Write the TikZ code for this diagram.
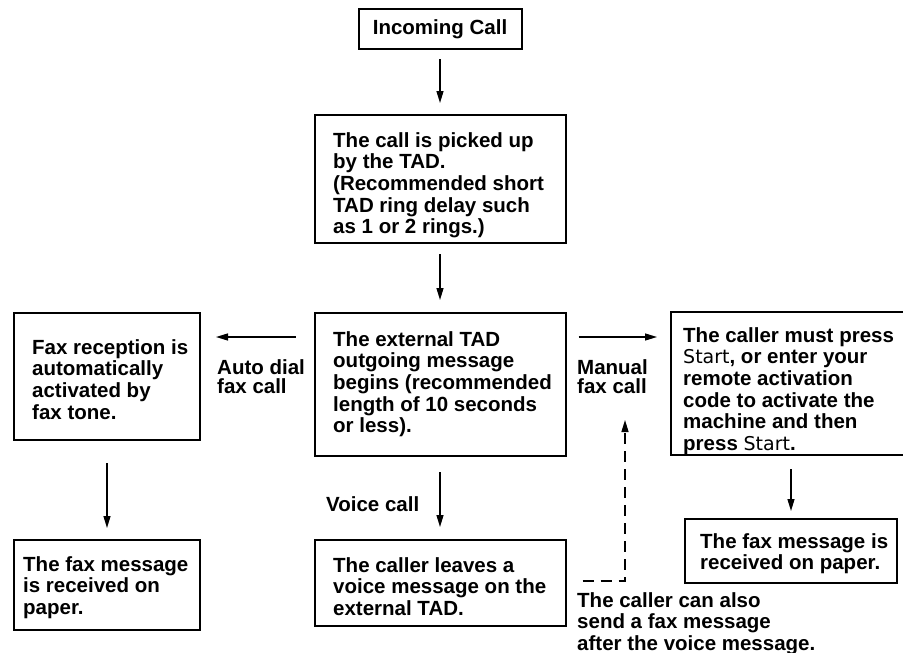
\documentclass[tikz,border=0pt]{standalone}
\usepackage{fontspec}
\setmainfont{Liberation Sans}
\newfontfamily\startfont{DejaVu Sans}
\usetikzlibrary{arrows.meta}
\newcommand{\Strt}{{\startfont\mdseries\fontsize{19}{21.7}\selectfont Start}}
\begin{document}
\begin{tikzpicture}[x=1pt,y=-1pt,
  box/.style={draw, line width=2pt, inner sep=0pt},
  txt/.style={inner sep=0pt, align=left, anchor=north west, font=\bfseries\fontsize{20.5}{21.7}\selectfont},
  lbl/.style={inner sep=0pt, align=left, anchor=north west, font=\bfseries\fontsize{20.5}{19.5}\selectfont},
  arr/.style={line width=1.3pt, -{Triangle[length=12pt,width=7pt]}},
  dasharr/.style={arr, dash pattern=on 11pt off 7pt}]
\useasboundingbox (0,0) rectangle (903,653);

% boxes
\node[box, minimum width=163pt, minimum height=40pt, font=\bfseries\fontsize{20.5}{21.7}\selectfont] (b0) at (440,29) {Incoming Call};
\node[box, minimum width=251pt, minimum height=128pt] (b1) at (440,179) {};
\node[box, minimum width=251pt, minimum height=143pt] (b2) at (440,384.5) {};
\node[box, minimum width=186pt, minimum height=127pt] (bL) at (107,376.5) {};
\node[box, minimum width=186pt, minimum height=90pt] (bLL) at (107,585) {};
\node[box, minimum width=251pt, minimum height=86pt] (bC) at (440,583) {};
\node[box, minimum width=245pt, minimum height=143pt] (bR) at (793.5,383.5) {};
\node[box, minimum width=212pt, minimum height=64pt] (bRR) at (791,551) {};

% texts
\node[txt] (t1) at (333,132) {The call is picked up\\by the TAD.\\(Recommended short\\TAD ring delay such\\as 1 or 2 rings.)};
\node[txt] (t2) at (333,331) {The external TAD\\outgoing message\\begins (recommended\\length of 10 seconds\\or less).};
\node[txt] (tL) at (32,339) {Fax reception is\\automatically\\activated by\\fax tone.};
\node[txt] (tLL) at (23,556) {The fax message\\is received on\\paper.};
\node[txt] (tC) at (333,557) {The caller leaves a\\voice message on the\\external TAD.};
\node[txt] (tR) at (683,327) {The caller must press\\\Strt, or enter your\\remote activation\\code to activate the\\machine and then\\press \Strt.};
\node[txt] (tRR) at (700,533) {The fax message is\\received on paper.};

% labels
\node[lbl] (lA) at (217,359) {Auto dial\\fax call};
\node[lbl] (lM) at (577,359) {Manual\\fax call};
\node[txt, anchor=base west] (lV) at (326,511) {Voice call};
\node[txt] (lN) at (577,592) {The caller can also\\send a fax message\\after the voice message.};

% connectors
\draw[arr, shorten <=9pt, shorten >=11pt] (b0.south) -- (b1.north);
\draw[arr, shorten <=10pt, shorten >=12pt] (b1.south) -- (b2.north);
\draw[arr, shorten <=15pt, shorten >=12pt] (b2.south) -- (bC.north);
\draw[arr, shorten <=18pt, shorten >=15pt] ([yshift=47.5pt]b2.west) -- ([yshift=47.5pt]b2.west -| bL.east);
\draw[arr, shorten <=12pt, shorten >=13pt] ([yshift=47.5pt]b2.east) -- ([yshift=47.5pt]b2.east -| bR.west);
\draw[arr, shorten <=22pt, shorten >=11pt] (bL.south) -- (bLL.north);
\draw[arr, shorten <=13pt, shorten >=7pt] (bR.south -| bRR.north) -- (bRR.north);
\coordinate (dtip) at (625,420);
\draw[dasharr] ([xshift=16pt,yshift=2pt]bC.east) -| (dtip);
\end{tikzpicture}
\end{document}
